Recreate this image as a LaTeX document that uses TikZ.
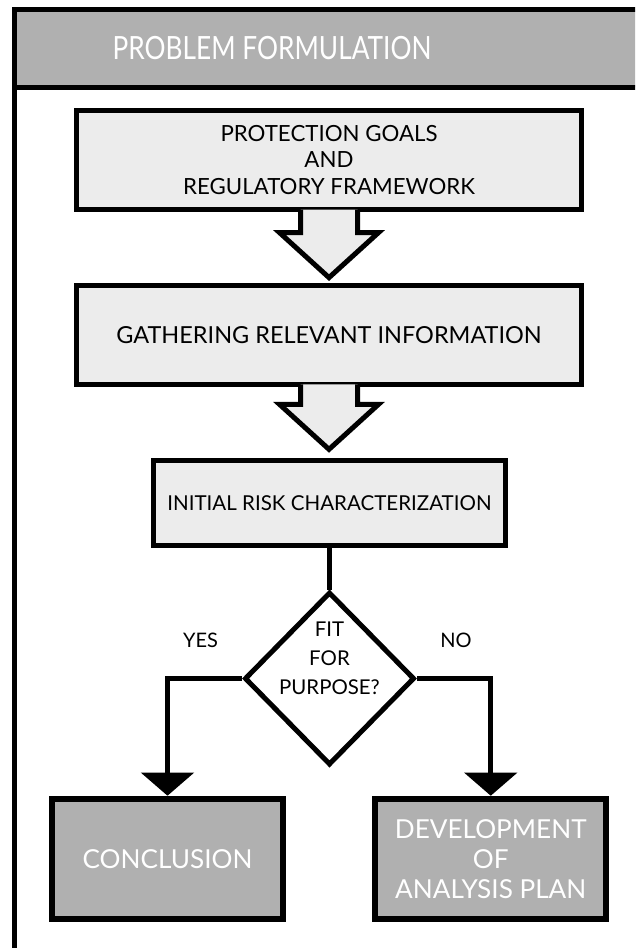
\documentclass[tikz,border=0pt]{standalone}
\usepackage{fontspec}
\setmainfont{Lato}
\newfontfamily\titlefont[FakeStretch=0.82]{Lato}
\usetikzlibrary{shapes.geometric,arrows.meta,calc}
\definecolor{lightbox}{HTML}{ECECEC}
\definecolor{darkbox}{HTML}{B0B0B0}
\begin{document}
\begin{tikzpicture}[x=0.75pt,y=-0.75pt,
  stepbox/.style={draw, line width=3.75pt, fill=lightbox, align=center, inner sep=0pt,
    minimum width=378.75pt, minimum height=74.4pt, font=\fontsize{16.7}{19.9}\selectfont},
  outbox/.style={draw, line width=4.5pt, fill=darkbox, text=white, align=center, inner sep=0pt,
    minimum width=173.25pt, minimum height=90.4pt, font=\fontsize{19.6}{22.5}\selectfont},
  decision/.style={draw, diamond, line width=3.75pt, fill=white, inner sep=0pt,
    minimum width=127.5pt, minimum height=129.75pt},
  blockarrow/.style={line width=3.75pt, fill=lightbox, line join=miter},
  flow/.style={line width=3.75pt, -{Triangle[width=39pt,length=17.25pt]}},
  answer/.style={font=\fontsize{15}{18}\selectfont, align=center}
]
\useasboundingbox (0,0) rectangle (635,948);
\clip (0,0) rectangle (635,948);
% frame and header
\draw[line width=3.75pt, fill=darkbox] (14.5,10) rectangle (660,87.5);
\draw[line width=3.75pt] (14.5,87.5) -- (14.5,960);
\node[text=white, font=\titlefont\fontsize{24}{28}\selectfont] (title) at (272,48) {PROBLEM FORMULATION};
% steps
\node[stepbox] (protect) at (329,160) {PROTECTION GOALS\\AND\\REGULATORY FRAMEWORK};
\node[stepbox, font=\fontsize{17.6}{21}\selectfont] (gather) at (329,334.75) {GATHERING RELEVANT INFORMATION};
\node[stepbox, minimum width=264pt, minimum height=63.4pt, font=\fontsize{15.4}{18}\selectfont]
  (risk) at (329.5,503) {INITIAL RISK CHARACTERIZATION};
% block arrows between steps
\foreach \from/\len in {protect/23, gather/20} {
  \filldraw[blockarrow] ($(\from.south)+(-28.5,-2.5)$) -- ++(0,\len) -- ++(-21,0)
    -- ++(49.5,45) -- ++(49.5,-45) -- ++(-21,0) -- ++(0,-\len);
}
% decision
\node[decision] (fit) at (329.5,678.5) {};
\node[answer, font=\fontsize{15.3}{21.75}\selectfont] (fittext) at (329.5,658) {FIT\\FOR\\PURPOSE?};
\node[answer, anchor=base] (yes) at (200.5,647) {YES};
\node[answer, anchor=base] (no) at (456,647) {NO};
% outcomes
\node[outbox] (concl) at (167.5,859) {CONCLUSION};
\node[outbox] (plan) at (490.75,859) {DEVELOPMENT\\OF\\ANALYSIS PLAN};
% connectors
\draw[line width=3.75pt] (risk.south) -- (fit.north);
\draw[flow] (fit.west) -| (concl.north);
\draw[flow] (fit.east) -| (plan.north);
\end{tikzpicture}
\end{document}
